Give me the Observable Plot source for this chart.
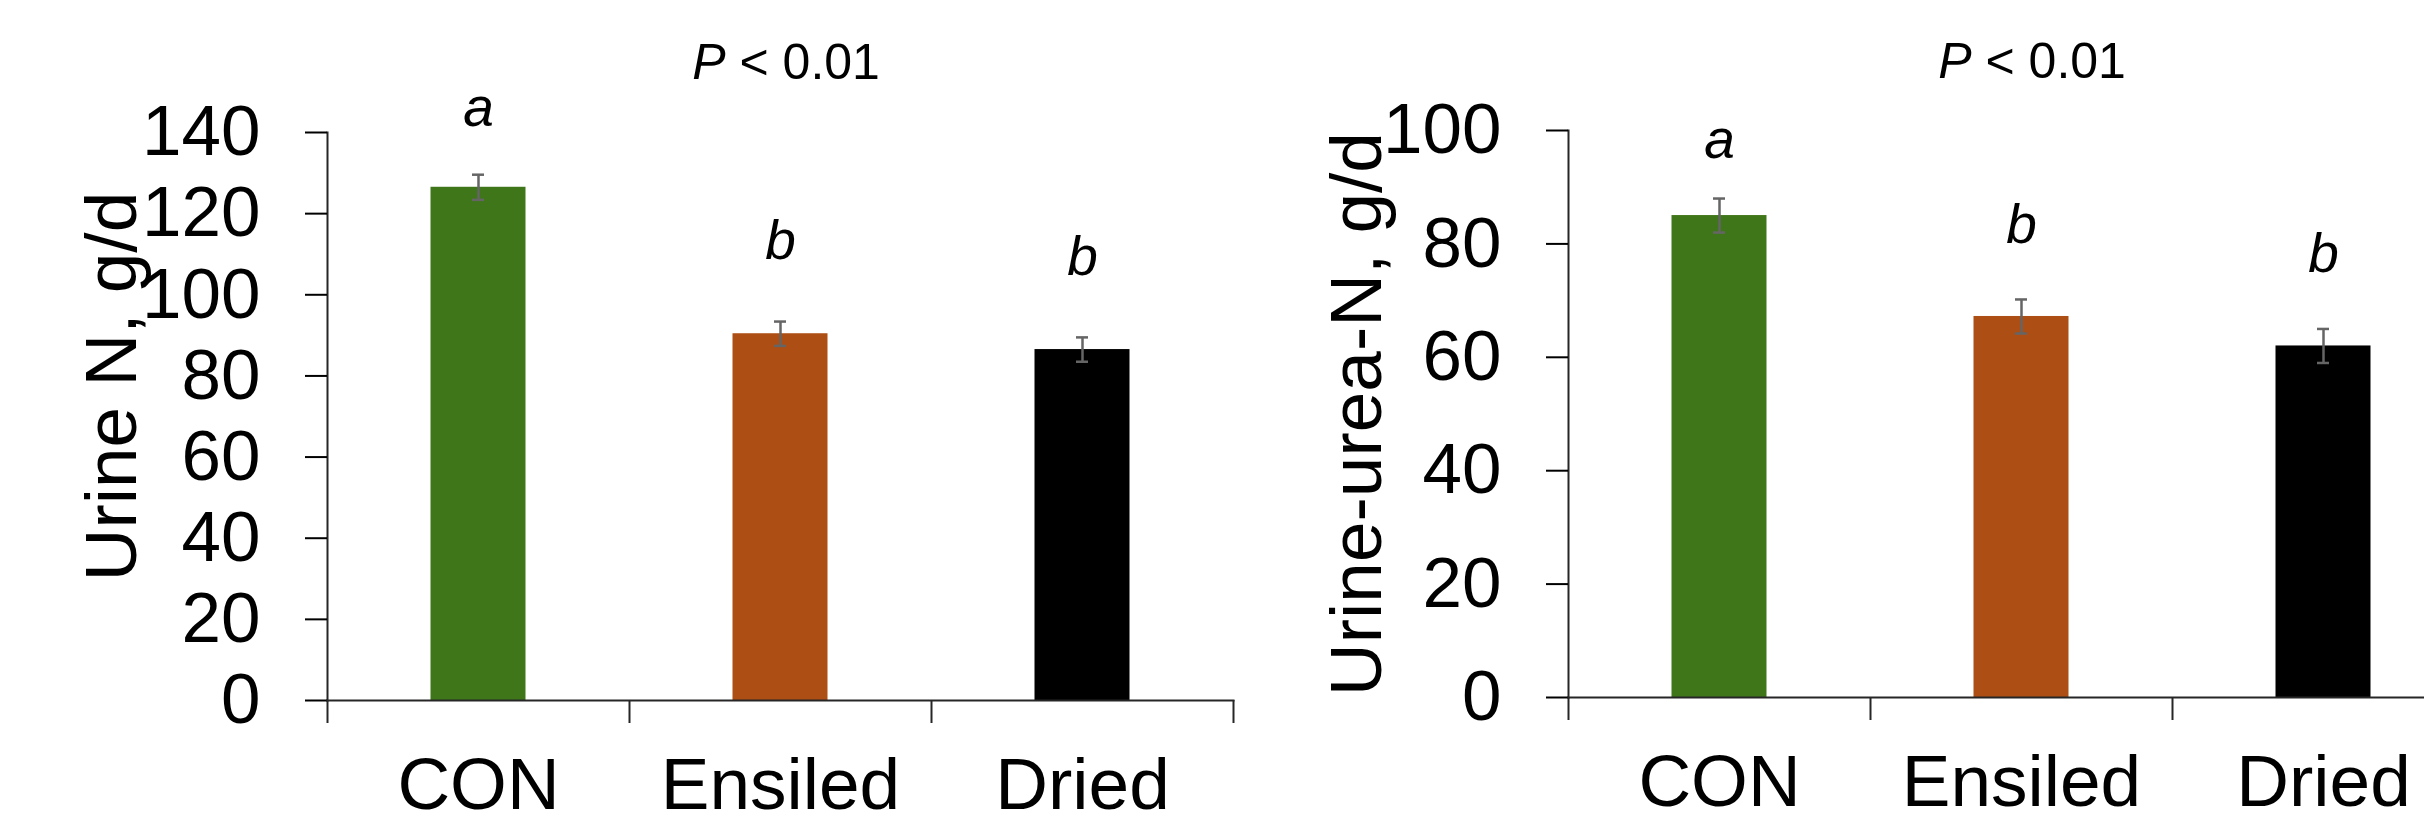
<!DOCTYPE html>
<html>
<head>
<meta charset="utf-8">
<script src="https://cdn.jsdelivr.net/npm/d3@7"></script>
<script src="https://cdn.jsdelivr.net/npm/@observablehq/plot@0.6"></script>
<style>
  html, body { margin: 0; padding: 0; background: white; overflow: hidden; }
  #wrap { position: relative; width: 2424px; height: 819px; overflow: hidden; background: white; }
  .panel { position: absolute; top: 0; }
</style>
</head>
<body>
<div id="wrap">
  <div class="panel" id="left" style="left:0px;width:1240px;"></div>
  <div class="panel" id="right" style="left:1240px;width:1240px;"></div>
</div>
<script>
// ---- data ----
const categories = ["CON", "Ensiled", "Dried"];
const barColors = ["#40761a", "#ad4e14", "#000000"];

const urineN = [126.5, 90.4, 86.5];
const urineNse = [3.1, 3.0, 3.0];
const urineNletters = ["a", "b", "b"];
const urineNletterAt = [141.5, 108.8, 105.0];
const urineNticks = [0, 20, 40, 60, 80, 100, 120, 140];

const ureaN = [85.0, 67.2, 62.0];
const ureaNse = [3.0, 3.0, 3.0];
const ureaNletters = ["a", "b", "b"];
const ureaNletterAt = [95.2, 80.2, 75.0];
const ureaNticks = [0, 20, 40, 60, 80, 100];

const pLabel = "< 0.01";

function panel(cfg) {
  const data = categories.map((c, i) => ({
    cat: c, v: cfg.values[i], se: cfg.se[i], letter: cfg.letters[i], at: cfg.letterAt[i]
  }));
  const bw = (cfg.width - cfg.marginLeft - cfg.marginRight) / categories.length;
  const errStroke = "#656565";
  return Plot.plot({
    width: cfg.width,
    height: 819,
    marginLeft: cfg.marginLeft,
    marginRight: cfg.marginRight,
    marginTop: cfg.marginTop,
    marginBottom: cfg.marginBottom,
    style: { fontFamily: "'Liberation Sans', Arial, sans-serif", background: "white", overflow: "visible", color: "black" },
    x: { type: "band", domain: categories, padding: 0 },
    y: { domain: [0, cfg.yMax] },
    color: { domain: categories, range: barColors },
    marks: [
      Plot.barY(data, { x: "cat", y: "v", fill: "cat", insetLeft: (bw - 95) / 2, insetRight: (bw - 95) / 2 }),
      Plot.ruleX(data, { x: "cat", y1: d => d.v - d.se, y2: d => d.v + d.se, stroke: errStroke, strokeWidth: 2.5 }),
      Plot.tickY(data, { x: "cat", y: d => d.v + d.se, stroke: errStroke, strokeWidth: 2.5, insetLeft: (bw - 12) / 2, insetRight: (bw - 12) / 2 }),
      Plot.tickY(data, { x: "cat", y: d => d.v - d.se, stroke: errStroke, strokeWidth: 2.5, insetLeft: (bw - 12) / 2, insetRight: (bw - 12) / 2 }),
      Plot.frame({ anchor: "left", stroke: "#262626", strokeWidth: 2 }),
      Plot.frame({ anchor: "bottom", stroke: "#262626", strokeWidth: 2 }),
      Plot.axisY({ ticks: cfg.yTicks, tickSize: 22, tickPadding: 45, fontSize: 71, label: null, stroke: "black", strokeWidth: 2, fill: "black" }),
      Plot.axisX({ tickSize: 23, fill: "none", label: null, dx: -bw / 2, stroke: "#262626", strokeWidth: 2 }),
      Plot.axisX({ ticks: [categories[categories.length - 1]], tickSize: 23, fill: "none", label: null, dx: bw / 2, stroke: "#262626", strokeWidth: 2 }),
      Plot.axisX({ tickSize: 0, tickPadding: 57, fontSize: 73, label: null, fill: "black" }),
      Plot.text(data, { x: "cat", y: "at", text: "letter", fontStyle: "italic", fontSize: 55, lineAnchor: "bottom", fill: "black" }),
      Plot.text(["P"], { x: () => categories[1], frameAnchor: "top", text: d => d, fontStyle: "italic", fontSize: 50, textAnchor: "end", lineAnchor: "bottom", dx: cfg.pDx, dy: cfg.pDy, fill: "black" }),
      Plot.text([pLabel], { x: () => categories[1], frameAnchor: "top", text: d => d, fontSize: 50, textAnchor: "start", lineAnchor: "bottom", dx: cfg.pDx + 14, dy: cfg.pDy, fill: "black" }),
      Plot.text([cfg.ylabel], { frameAnchor: "left", text: d => d, rotate: -90, fontSize: 73, textAnchor: "middle", lineAnchor: "bottom", dx: cfg.labelDx, dy: cfg.labelDy, fill: "black" })
    ]
  });
}

document.getElementById("left").appendChild(panel({
  values: urineN, se: urineNse, letters: urineNletters, letterAt: urineNletterAt,
  yMax: 140, yTicks: urineNticks, ylabel: "Urine N, g/d",
  width: 1240, marginLeft: 327, marginRight: 7, marginTop: 132, marginBottom: 119,
  labelDx: -192, labelDy: -30, pDx: -55, pDy: -54
}));

document.getElementById("right").appendChild(panel({
  values: ureaN, se: ureaNse, letters: ureaNletters, letterAt: ureaNletterAt,
  yMax: 100, yTicks: ureaNticks, ylabel: "Urine-urea-N, g/d",
  width: 1240, marginLeft: 328, marginRight: 6, marginTop: 130, marginBottom: 122,
  labelDx: -188, labelDy: 0, pDx: -50, pDy: -53
}));
</script>
</body>
</html>
